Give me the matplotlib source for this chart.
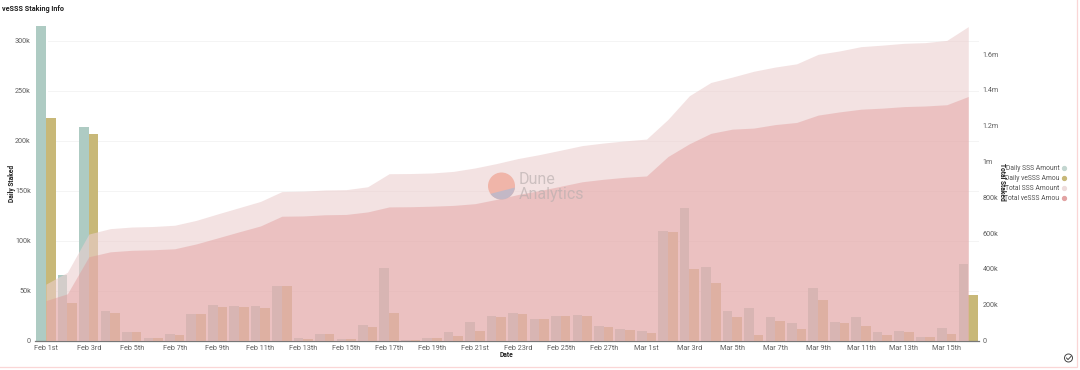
import matplotlib
matplotlib.use("Agg")
import matplotlib.pyplot as plt
from matplotlib.patches import Circle, Polygon, Rectangle
from matplotlib.lines import Line2D
import numpy as np

W, H = 1080, 370

TICK_LABELS = ["Feb 1st", "Feb 3rd", "Feb 5th", "Feb 7th", "Feb 9th", "Feb 11th",
               "Feb 13th", "Feb 15th", "Feb 17th", "Feb 19th", "Feb 21st", "Feb 23rd",
               "Feb 25th", "Feb 27th", "Mar 1st", "Mar 3rd", "Mar 5th", "Mar 7th",
               "Mar 9th", "Mar 11th", "Mar 13th", "Mar 15th"]

# thousands
daily_sss = [315, 66, 214, 30, 9, 3, 7, 27, 36, 35, 35, 55, 2.5, 6.5, 2, 16, 73, 1, 3, 9, 19, 24.5,
             28, 22, 25, 25.5, 14.5, 12, 10, 110, 132.5, 74, 30, 32.5, 23.5, 18, 53, 19, 24, 8.5,
             10, 4, 12.5, 77]
daily_vesss = [223, 38, 207, 27.5, 8.5, 3, 5.5, 27, 33.5, 34, 33, 54.5, 1.5, 6.5, 2, 14, 28, 1, 3,
               4.5, 9.5, 24, 27, 22, 24.5, 25, 14, 11, 7.5, 108.5, 71.5, 58, 23.5, 6, 19.5, 12, 41,
               18, 15, 6, 8.5, 3.5, 7, 46]
total_sss = [315, 381, 595, 625, 634, 637, 644, 671, 707, 742, 777, 832, 834.5, 841, 843, 859, 932,
             933, 936, 945, 964, 988.5, 1016.5, 1038.5, 1063.5, 1089, 1103.5, 1115.5, 1125.5,
             1235.5, 1368, 1442, 1472, 1504.5, 1528, 1546, 1599, 1618, 1642, 1650.5, 1660.5,
             1664.5, 1677, 1754]
total_vesss = [223, 261, 468, 495.5, 504, 507, 512.5, 539.5, 573, 607, 640, 694.5, 696, 702.5,
               704.5, 718.5, 746.5, 747.5, 750.5, 755, 764.5, 788.5, 815.5, 837.5, 862, 887, 901,
               912, 919.5, 1028, 1099.5, 1157.5, 1181, 1187, 1206.5, 1218.5, 1259.5, 1277.5,
               1292.5, 1298.5, 1307, 1310.5, 1317.5, 1363.5]
LEGEND = ["Daily SSS Amount", "Daily veSSS Amou", "Total SSS Amount", "Total veSSS Amou"]

TEAL = "#aecbc3"
GOLD = "#c8b878"
UPPER = "#eccfcf"
LOWER = "#e09595"
GRY = "#5f5f5f"

plt.rcParams["font.family"] = ["Roboto", "DejaVu Sans"]

fig = plt.figure(figsize=(W / 100, H / 100), dpi=100, facecolor="white")


def fx(px):
    return px / W


def fy(py):
    return 1 - py / H


ax = fig.add_axes([fx(35), fy(340.5), fx(979 - 35), fy(25) - fy(340.5)])
days = np.arange(len(daily_sss))
ax.set_xlim(-0.51, 43.5)
ax.set_ylim(0, 315.5)

ax.bar(days - 0.225, daily_sss, width=0.45, color=TEAL, zorder=2)
ax.bar(days + 0.225, daily_vesss, width=0.45, color=GOLD, zorder=2)

ax.set_yticks([0, 50, 100, 150, 200, 250, 300])
ax.set_yticklabels(["0", "50k", "100k", "150k", "200k", "250k", "300k"])
ax.set_xticks(days[::2])
ax.set_xticklabels(TICK_LABELS)
ax.tick_params(axis="both", length=0, labelsize=5.2, labelcolor=GRY)
ax.tick_params(axis="x", pad=3)
ax.tick_params(axis="y", pad=3)
ax.grid(False)
for y in [50, 100, 150, 200, 250, 300]:
    ax.plot([0.014, 1], [y / 315.5, y / 315.5], transform=ax.transAxes, color="#f2f2f2",
            linewidth=0.6, zorder=1)
for s in ["top", "right", "left"]:
    ax.spines[s].set_visible(False)
ax.spines["bottom"].set_color("#777777")
ax.spines["bottom"].set_linewidth(0.9)
ax.spines["bottom"].set_zorder(6)

ax2 = ax.twinx()
ax2.set_ylim(0, 1763)
ax2.fill_between(days, total_sss, color=UPPER, alpha=0.6, linewidth=0, zorder=3)
ax2.fill_between(days, total_vesss, color=LOWER, alpha=0.42, linewidth=0, zorder=4)
ax2.set_yticks([0, 200, 400, 600, 800, 1000, 1200, 1400, 1600])
ax2.set_yticklabels(["0", "200k", "400k", "600k", "800k", "1m", "1.2m", "1.4m", "1.6m"])
ax2.tick_params(axis="y", length=0, labelsize=5.2, labelcolor=GRY, pad=2.8)
for s in ax2.spines.values():
    s.set_visible(False)

fig.text(fx(2), fy(9), "veSSS Staking Info", fontsize=5.2, fontweight="bold", color="#222222",
         ha="left", va="center")
fig.text(fx(11.5), fy(183), "Daily Staked", fontsize=4.8, fontweight="bold", color="#222222",
         rotation=90, ha="center", va="center")
fig.text(fx(1002), fy(182), "Total Staked", fontsize=4.8, fontweight="bold", color="#222222",
         rotation=270, ha="center", va="center")
fig.text(fx(507), fy(355), "Date", fontsize=4.8, fontweight="bold", color="#222222",
         ha="center", va="center")

# legend is truncated in the reference, so it is placed by hand
legend_y = [168, 178, 188, 198]
legend_c = ["#c3d6d0", GOLD, "#eedcdc", "#e2a3a3"]
for name, py, col in zip(LEGEND, legend_y, legend_c):
    fig.text(fx(1059.5), fy(py), name, fontsize=4.9, color="#555555", ha="right", va="center")
    fig.add_artist(Line2D([fx(1064)], [fy(py)], marker="o", markersize=2.8, color=col,
                          linewidth=0, transform=fig.transFigure))

# watermark, drawn in pixel space on a full figure overlay
ov = fig.add_axes([0, 0, 1, 1], facecolor="none")
ov.set_xlim(0, W)
ov.set_ylim(H, 0)
ov.axis("off")
logo = Circle((501.5, 186), 13.5, color="#f0b5a9", linewidth=0)
ov.add_patch(logo)
low = Polygon([(486, 195), (517, 187), (517, 201), (486, 201)], color="#c3b8c6", linewidth=0)
ov.add_patch(low)
low.set_clip_path(logo)
ov.text(519, 180, "Dune", fontsize=11.5, color="#b8aeae", alpha=0.65, ha="left", va="center")
ov.text(519, 195, "Analytics", fontsize=11.5, color="#b8aeae", alpha=0.65, ha="left", va="center")

# card border and the check icon
ov.add_patch(Rectangle((-2, -2), 1079, 368.5, fill=False, edgecolor="#fad6d6", linewidth=0.9))
ov.add_patch(Circle((1068.5, 358), 4, fill=False, edgecolor="#444444", linewidth=0.7))
ov.plot([1066.5, 1068, 1071], [358, 359.6, 356.4], color="#444444", linewidth=0.7)

fig.savefig("out.png", dpi=100, facecolor="white")
